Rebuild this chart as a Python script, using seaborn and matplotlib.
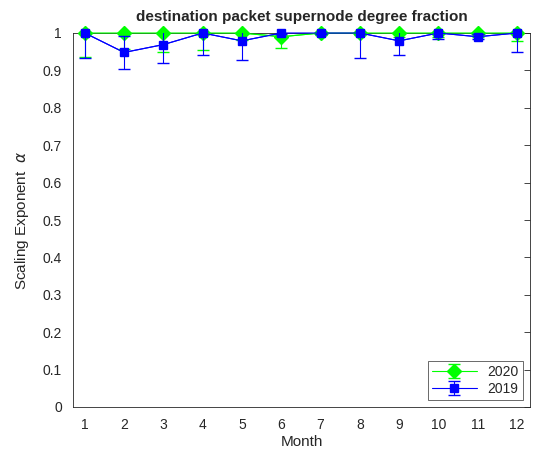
import numpy as np
import matplotlib
matplotlib.use("Agg")
import matplotlib.pyplot as plt
import seaborn as sns

months = [1, 2, 3, 4, 5, 6, 7, 8, 9, 10, 11, 12]
alpha_2020 = [1.0, 1.0, 1.0, 1.0, 1.0, 0.99, 1.0, 1.0, 1.0, 1.0, 1.0, 1.0]
err_2020 = [0.064, 0.042, 0.05, 0.046, 0.02, 0.03, 0.005, 0.005, 0.01, 0.012, 0.01, 0.021]
alpha_2019 = [1.0, 0.948, 0.969, 1.0, 0.979, 1.0, 1.0, 1.0, 0.979, 1.0, 0.99, 1.0]
err_2019 = [0.066, 0.044, 0.049, 0.06, 0.05, 0.004, 0.004, 0.066, 0.039, 0.015, 0.006, 0.051]

sns.set_style("white")
plt.rcParams['font.family'] = ['Liberation Sans', 'DejaVu Sans']

fig = plt.figure(figsize=(5.4, 4.54), dpi=100)
ax = fig.add_axes([73 / 540, 1 - 407 / 454, 457 / 540, 374 / 454])

green = "#00ff00"
blue = "#0000ff"

sns.lineplot(x=months, y=alpha_2020, ax=ax, color=green, lw=0.8, label="_nolegend_")
sns.lineplot(x=months, y=alpha_2019, ax=ax, color=blue, lw=0.8, label="_nolegend_")
h1 = ax.errorbar(months, alpha_2020, yerr=err_2020, color=green, marker="D", ms=7,
                 lw=0.8, capsize=4, elinewidth=0.8, label="2020", zorder=3)
h2 = ax.errorbar(months, alpha_2019, yerr=err_2019, color=blue, marker="s", ms=6,
                 lw=0.8, capsize=4, elinewidth=0.8, label="2019", zorder=4)
# markers drawn over the frame, error bars clipped at the axes
h1.lines[0].set_clip_on(False)
h2.lines[0].set_clip_on(False)

ax.set_xlim(0.7, 12.33)
ax.set_ylim(0, 1)
ax.set_xticks(months)
ax.set_yticks(np.arange(0, 1.01, 0.1))
ax.set_yticklabels(["0", "0.1", "0.2", "0.3", "0.4", "0.5", "0.6", "0.7", "0.8", "0.9", "1"])
ax.tick_params(direction="in", length=4, width=0.6, labelsize=10, colors="#262626",
               top=True, right=True, pad=8)
for s in ax.spines.values():
    s.set_color("#262626")
    s.set_linewidth(0.6)
ax.set_xlabel("Month", fontsize=11, color="#262626", labelpad=2)
ax.set_ylabel(r"Scaling Exponent  $\alpha$", fontsize=11, color="#262626", labelpad=8)
ax.set_title("destination packet supernode degree fraction", fontsize=11,
             fontweight="bold", pad=9)
leg = ax.legend(handles=[h1, h2], loc="lower right", fontsize=10, frameon=True,
                fancybox=False, edgecolor="#262626", handlelength=3.2,
                borderpad=0.3, labelspacing=0.2)
leg.get_frame().set_linewidth(0.6)

fig.savefig("out.png", dpi=100)
